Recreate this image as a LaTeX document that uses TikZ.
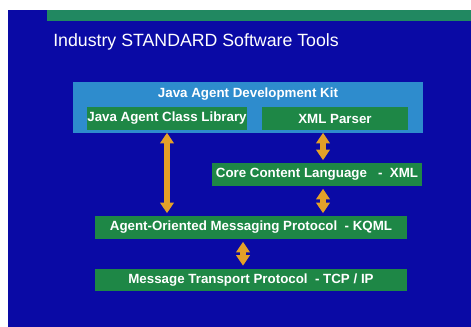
\documentclass[tikz,border=0pt]{standalone}
\usepackage{fontspec}
\setmainfont{Liberation Sans}
\usepackage{xcolor}
\usetikzlibrary{arrows.meta}
\definecolor{slideblue}{RGB}{10,10,165}
\definecolor{kitblue}{RGB}{46,140,205}
\definecolor{boxgreen}{RGB}{30,135,70}
\definecolor{arrorange}{RGB}{228,160,40}
\tikzset{layer/.style={fill=boxgreen,text=white,font=\bfseries\fontsize{10}{12}\selectfont,minimum height=17pt,inner sep=0pt},
  kit/.style={fill=kitblue,minimum width=262.5pt,minimum height=38pt,inner sep=0pt},
  updown/.style={arrorange,line width=4.5pt,{Triangle[width=10pt,length=8pt]}-{Triangle[width=10pt,length=8pt]},shorten <=2pt,shorten >=2pt}}

\begin{document}
\begin{tikzpicture}[x=0.75pt,y=-0.75pt]
    \useasboundingbox (0,0) rectangle (471,327);
    \fill[white] (0,0) rectangle (471,327);
    \fill[slideblue] (8,10) rectangle (471,327);
    \fill[boxgreen!80!kitblue] (47,10) rectangle (471,21);
    \node[anchor=west,inner sep=0pt,text=white,font=\fontsize{13.3}{15}\selectfont] (title)at (53,42) {Industry STANDARD Software Tools};

    \node[kit] (jadk)at (248,107.5) {};
    \node[text=white,font=\bfseries\fontsize{10}{12}\selectfont] (jadkl)at (248,94) {Java Agent Development Kit};
    \node[layer,minimum width=120pt] (jacl)at (167,118.5) {Java Agent Class Library};
    \node[layer,minimum width=109.5pt] (xml)at (335,118.5) {XML Parser};
    \node[layer,minimum width=157.5pt] (ccl)at (317,174.5) {Core Content Language \ \ -\ \ XML};
    \node[layer,minimum width=234pt] (aomp)at (251,227.5) {Agent-Oriented Messaging Protocol \ -\ KQML};
    \node[layer,minimum width=234pt] (mtp)at (251,280) {Message Transport Protocol \ -\ TCP / IP};

    \draw [updown] (jacl.south) to (jacl.south |- aomp.north);
    \draw [updown] ([xshift=-9pt]xml.south) to ([xshift=-9pt]xml.south |- ccl.north);
    \draw [updown] ([xshift=-9pt]xml.south |- ccl.south) to ([xshift=-9pt]xml.south |- aomp.north);
    \draw [updown] ([xshift=-6pt]aomp.south) to ([xshift=-6pt]mtp.north);
\end{tikzpicture}
\end{document}
